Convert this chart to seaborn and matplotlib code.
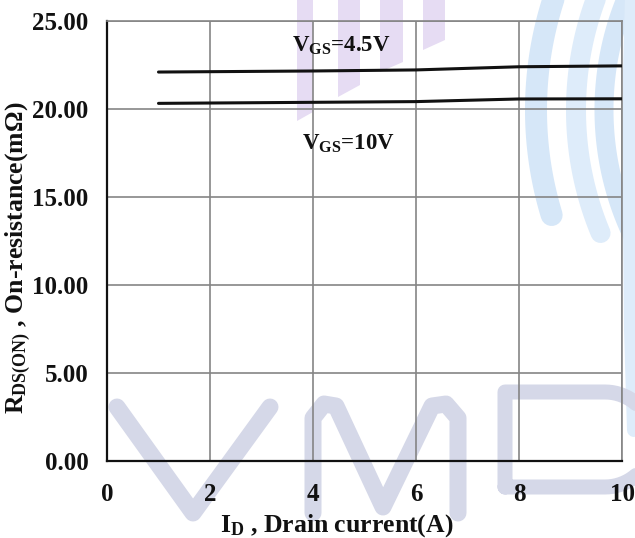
import numpy as np
import pandas as pd
import matplotlib
matplotlib.use("Agg")
import matplotlib.pyplot as plt
from matplotlib.lines import Line2D
from matplotlib.patches import Polygon
import seaborn as sns

# ---- data ----
current_a = [1, 2, 4, 6, 8, 10]
rds_vgs45 = [22.10, 22.12, 22.16, 22.22, 22.40, 22.45]
rds_vgs10 = [20.32, 20.34, 20.38, 20.42, 20.57, 20.58]
series_names = ["V$_{GS}$=4.5V", "V$_{GS}$=10V"]
x_ticks = [0, 2, 4, 6, 8, 10]
y_ticks = [0, 5, 10, 15, 20, 25]
y_tick_labels = ["0.00", "5.00", "10.00", "15.00", "20.00", "25.00"]

df = pd.DataFrame({
    "I": current_a * 2,
    "R": rds_vgs45 + rds_vgs10,
    "series": [series_names[0]] * len(current_a) + [series_names[1]] * len(current_a),
})

sns.set_theme(style="white")
plt.rcParams["font.family"] = ["Liberation Serif", "DejaVu Serif"]
plt.rcParams["font.weight"] = "bold"
plt.rcParams["mathtext.fontset"] = "custom"
plt.rcParams["mathtext.rm"] = "Liberation Serif:bold"
plt.rcParams["mathtext.it"] = "Liberation Serif:bold"
plt.rcParams["mathtext.bf"] = "Liberation Serif:bold"

W, H = 635, 538
fig = plt.figure(figsize=(W / 100, H / 100), dpi=100)
fig.patch.set_facecolor("white")

def P(x, y):
    return (x / W, 1 - y / H)

def wline(pts, color, lw_px, cap="round"):
    xs = [p[0] / W for p in pts]
    ys = [1 - p[1] / H for p in pts]
    fig.add_artist(Line2D(xs, ys, transform=fig.transFigure, color=color,
                          lw=lw_px * 0.72, solid_capstyle=cap,
                          solid_joinstyle="round", zorder=0))

# ---- watermark (background logo) ----
purple = "#e6dcf3"
for poly in [
    [(297, 0), (313, 0), (313, 112), (297, 121)],
    [(338, 0), (360, 0), (360, 85), (338, 97)],
    [(380, 0), (403, 0), (403, 62), (380, 72)],
    [(423, 0), (445, 0), (445, 40), (423, 50)],
]:
    fig.add_artist(Polygon([P(*p) for p in poly], closed=True, transform=fig.transFigure,
                           facecolor=purple, edgecolor="none", zorder=0))

blue = "#d6e7f8"
blue2 = "#deecfa"
cyc = 110
for left, R, y_end, w, col in [(536, 360, 215, 22, blue), (576, 320, 233, 20, blue2),
                               (604, 292, 240, 19, blue)]:
    cxc = left + R
    ys = np.linspace(-5, y_end, 80)
    pts = [(cxc - np.sqrt(R ** 2 - (y - cyc) ** 2), y) for y in ys]
    wline(pts, col, w)
wline([(632, -5), (629, 110), (631, 330), (634, 430)], blue2, 14)

grey = "#d5d8e8"
wline([(117, 407), (193, 513), (270, 407)], grey, 17)
wline([(313, 513), (313, 418), (324, 404), (336, 406), (383, 507), (432, 406), (446, 404), (458, 418), (458, 513)], grey, 17)
t = np.linspace(np.pi / 2, -np.pi / 2, 40)
wline([(505, 487), (505, 392), (605, 392)] +
      [(605 + 47.5 * np.cos(a), 439.5 - 47.5 * np.sin(a)) for a in t] +
      [(505, 487)], grey, 15)

# ---- axes ----
ax = fig.add_axes([107 / W, (H - 461) / H, (622 - 107) / W, (461 - 21) / H])
ax.set_facecolor("none")

sns.lineplot(data=df, x="I", y="R", hue="series", palette=["#111111", "#111111"],
             linewidth=2.2, legend=False, ax=ax, zorder=3)

ax.set_xlim(0, 10)
ax.set_ylim(0, 25)
ax.set_xticks(x_ticks)
ax.set_xticklabels([str(v) for v in x_ticks])
ax.set_yticks(y_ticks)
ax.set_yticklabels(y_tick_labels)
ax.grid(True, color="#858585", linewidth=1.2)
ax.tick_params(axis="both", length=0, labelsize=18, colors="#111111")
ax.tick_params(axis="x", pad=16)
ax.tick_params(axis="y", pad=13.5)
for lab in ax.get_xticklabels() + ax.get_yticklabels():
    lab.set_fontweight("bold")

for side in ["top", "right"]:
    ax.spines[side].set_color("#858585")
    ax.spines[side].set_linewidth(1.2)
for side in ["left", "bottom"]:
    ax.spines[side].set_color("#111111")
    ax.spines[side].set_linewidth(1.6)
    ax.spines[side].set_visible(True)

ax.set_xlabel("I$_{D}$ , Drain current(A)", fontsize=18.5, fontweight="bold")
ax.set_ylabel("R$_{DS(ON)}$ , On-resistance(mΩ)", fontsize=18.5, fontweight="bold")
ax.xaxis.set_label_coords((337 - 107) / 515, -(512 - 461) / 440)
ax.yaxis.set_label_coords(-(107 - 33) / 515, (461 - 258) / 440)
ax.xaxis.label.set_color("#111111")
ax.yaxis.label.set_color("#111111")

ax.text(3.6, 23.6, series_names[0], fontsize=16.5, fontweight="bold", color="#111111",
        ha="left", va="center")
ax.text(3.78, 18.0, series_names[1], fontsize=16.5, fontweight="bold", color="#111111",
        ha="left", va="center")

fig.savefig("out.png", dpi=100)
